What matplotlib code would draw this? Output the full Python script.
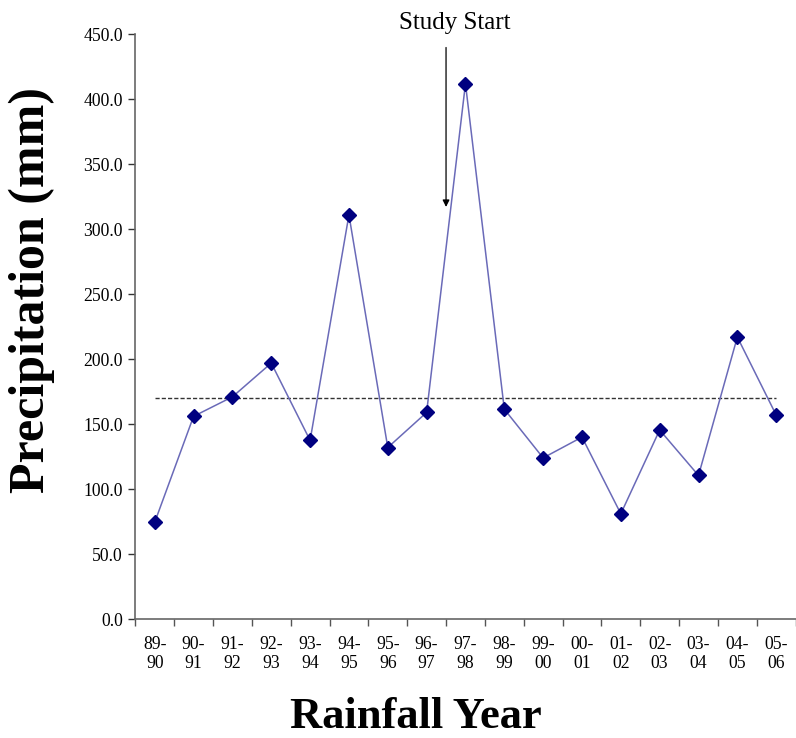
import matplotlib
matplotlib.use("Agg")
import matplotlib.pyplot as plt

years = ["89-\n90", "90-\n91", "91-\n92", "92-\n93", "93-\n94", "94-\n95", "95-\n96",
         "96-\n97", "97-\n98", "98-\n99", "99-\n00", "00-\n01", "01-\n02", "02-\n03",
         "03-\n04", "04-\n05", "05-\n06"]
precip = [74.5, 156, 171, 197, 137.5, 311, 132, 159, 412, 161.5, 124, 140, 81, 145.5, 110.5, 217, 157]
mean_value = 170
yticks = [0, 50, 100, 150, 200, 250, 300, 350, 400, 450]

plt.rcParams['font.family'] = ['Liberation Serif', 'DejaVu Serif']

fig = plt.figure(figsize=(7.96, 7.38), dpi=100)
ax = fig.add_axes([0.170, 0.1612, 0.8295, 0.7923])

x = list(range(len(years)))
ax.plot(x, precip, color='#6a6ab8', linewidth=1.1, zorder=3)
ax.plot(x, precip, linestyle='none', marker='D', markersize=7,
        markerfacecolor='#000080', markeredgecolor='#000080', zorder=4)
ax.plot([x[0], x[-1]], [mean_value, mean_value], color='#333333', linestyle=(0, (3, 1.5)),
        linewidth=1.0, zorder=2)

ax.set_xlim(-0.5, len(years) - 0.5)
ax.set_ylim(0, 450)
ax.set_yticks(yticks)
ax.set_yticklabels([f"{v:.1f}" for v in yticks], fontsize=12.7)
ax.set_xticks([i - 0.5 for i in range(len(years) + 1)])
ax.set_xticklabels([])
ax.set_xticks(x, minor=True)
ax.set_xticklabels(years, minor=True, fontsize=12.7, linespacing=1.1)
ax.tick_params(axis='x', which='minor', length=0, pad=12.5)
ax.tick_params(axis='x', which='major', length=5, direction='out', width=1, color='#555555')
ax.tick_params(axis='y', length=5, direction='out', width=1, color='#333333', pad=4)

for s in ['top', 'right']:
    ax.spines[s].set_visible(False)
for s in ['left', 'bottom']:
    ax.spines[s].set_color('#666666')
    ax.spines[s].set_linewidth(1.2)

ax.annotate('', xy=(7.5, 315), xytext=(7.5, 442),
            arrowprops=dict(arrowstyle='-|>', color='black', lw=0.9,
                            mutation_scale=10), annotation_clip=False)
ax.text(7.73, 459, 'Study Start', ha='center', va='center', fontsize=18, clip_on=False)

fig.text(0.040, 0.607, 'Precipitation (mm)', rotation=90, ha='center', va='center',
         fontsize=36, fontweight='bold')
fig.text(0.522, 0.029, 'Rainfall Year', ha='center', va='center',
         fontsize=32, fontweight='bold')

fig.savefig('out.png', dpi=100)
